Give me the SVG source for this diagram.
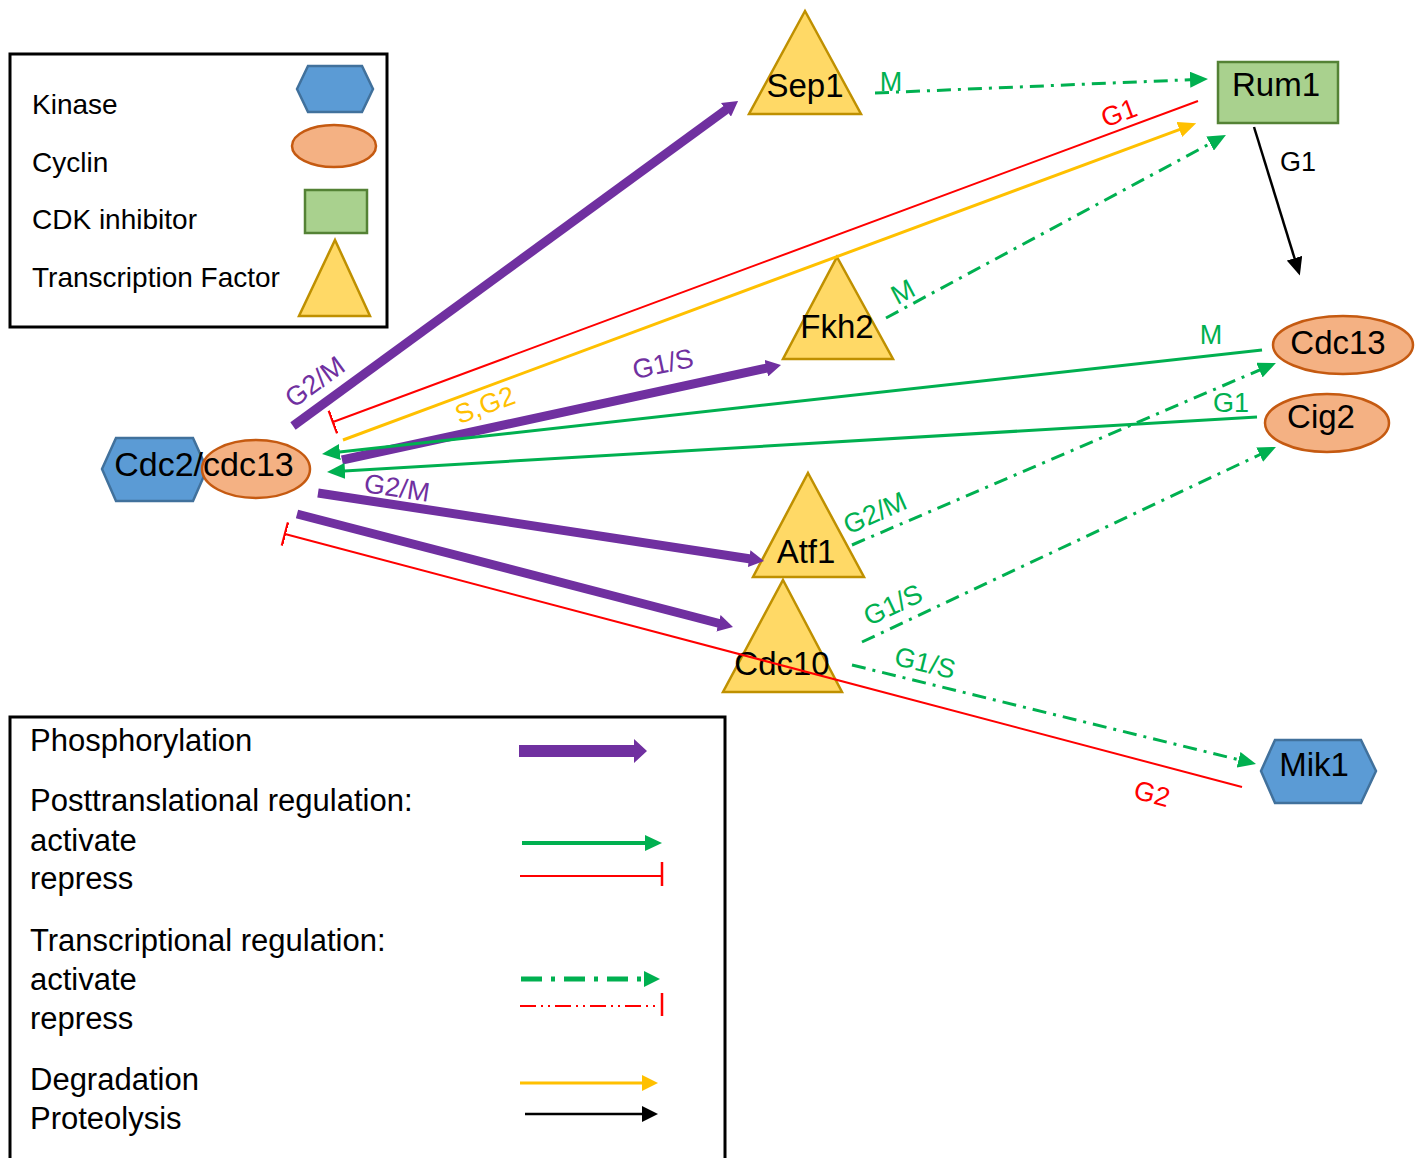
<svg xmlns="http://www.w3.org/2000/svg" width="1421" height="1158" viewBox="0 0 1421 1158">
<style>
text{font-family:"Liberation Sans",Arial,sans-serif;}
.leg{font-size:28px;fill:#000;}
.leg2{font-size:31px;fill:#000;}
.nl{font-size:33px;fill:#000;text-anchor:middle;}
.el{font-size:27px;text-anchor:middle;dominant-baseline:central;}
.hex{fill:#5B9BD5;stroke:#41719C;stroke-width:2.5;}
.cyc{fill:#F4B183;stroke:#C55A11;stroke-width:2.5;}
.cki{fill:#A9D18E;stroke:#548235;stroke-width:2.5;}
.tf{fill:#FFD966;stroke:#BF9000;stroke-width:2.5;}
.ph{stroke:#7030A0;stroke-width:9;fill:none;marker-end:url(#mP);}
.ga{stroke:#00B050;stroke-width:3;fill:none;marker-end:url(#mG);}
.gd{stroke:#00B050;stroke-width:3;fill:none;stroke-dasharray:14 7 3 7;marker-end:url(#mG);}
.rr{stroke:#FF0000;stroke-width:2;fill:none;marker-end:url(#mT);}
.dg{stroke:#FFC000;stroke-width:3;fill:none;marker-end:url(#mY);}
.pr{stroke:#000;stroke-width:2.5;fill:none;marker-end:url(#mK);}
.box{fill:none;stroke:#000;stroke-width:3;}
</style>
<defs>
<marker id="mP" markerUnits="userSpaceOnUse" markerWidth="15" markerHeight="17" viewBox="0 0 15 17" refX="5" refY="8.5" orient="auto"><path d="M0,0 L15,8.5 L0,17 z" fill="#7030A0"/></marker>
<marker id="mG" markerUnits="userSpaceOnUse" markerWidth="18" markerHeight="16" viewBox="0 0 18 16" refX="5" refY="8" orient="auto"><path d="M0,0 L18,8 L0,16 z" fill="#00B050"/></marker>
<marker id="mY" markerUnits="userSpaceOnUse" markerWidth="18" markerHeight="16" viewBox="0 0 18 16" refX="5" refY="8" orient="auto"><path d="M0,0 L18,8 L0,16 z" fill="#FFC000"/></marker>
<marker id="mK" markerUnits="userSpaceOnUse" markerWidth="18" markerHeight="16" viewBox="0 0 18 16" refX="5" refY="8" orient="auto"><path d="M0,0 L18,8 L0,16 z" fill="#000"/></marker>
<marker id="mT" markerUnits="userSpaceOnUse" markerWidth="4" markerHeight="26" viewBox="0 -13 4 26" refX="1" refY="0" orient="auto"><path d="M1,-12 L1,12" stroke="#FF0000" stroke-width="2.5"/></marker>
</defs>
<rect width="1421" height="1158" fill="#fff"/>

<g id="legend-nodes">
<rect class="box" x="10" y="54" width="377" height="273"/>
<text class="leg" x="32" y="114">Kinase</text>
<text class="leg" x="32" y="172">Cyclin</text>
<text class="leg" x="32" y="229">CDK inhibitor</text>
<text class="leg" x="32" y="287">Transcription Factor</text>
<polygon class="hex" points="297,89 308,66 362,66 373,89 362,112 308,112"/>
<ellipse class="cyc" cx="334" cy="146" rx="42" ry="21"/>
<rect class="cki" x="305" y="190" width="62" height="43"/>
<polygon class="tf" points="335,240 370,316 299,316"/>
</g>

<g id="legend-edges">
<rect class="box" x="10" y="717" width="715" height="460"/>
<text class="leg2" x="30" y="751">Phosphorylation</text>
<text class="leg2" x="30" y="811">Posttranslational regulation:</text>
<text class="leg2" x="30" y="851">activate</text>
<text class="leg2" x="30" y="889">repress</text>
<text class="leg2" x="30" y="951">Transcriptional regulation:</text>
<text class="leg2" x="30" y="990">activate</text>
<text class="leg2" x="30" y="1029">repress</text>
<text class="leg2" x="30" y="1090">Degradation</text>
<text class="leg2" x="30" y="1129">Proteolysis</text>
<path d="M519,745 L634,745 L634,739 L647,751 L634,763 L634,757 L519,757 z" fill="#7030A0"/>
<line x1="522" y1="843" x2="648" y2="843" stroke="#00B050" stroke-width="4"/>
<path d="M645,835 L662,843 L645,851 z" fill="#00B050"/>
<line x1="520" y1="876" x2="662" y2="876" stroke="#FF0000" stroke-width="2"/>
<line x1="662" y1="862" x2="662" y2="886" stroke="#FF0000" stroke-width="2.5"/>
<line x1="521" y1="979" x2="645" y2="979" stroke="#00B050" stroke-width="5" stroke-dasharray="21 9 4 9"/>
<path d="M644,971 L660,979 L644,987 z" fill="#00B050"/>
<line x1="520" y1="1006" x2="660" y2="1006" stroke="#FF0000" stroke-width="2" stroke-dasharray="16 5 2 5 2 5"/>
<line x1="662" y1="993" x2="662" y2="1016" stroke="#FF0000" stroke-width="2.5"/>
<line x1="520" y1="1083" x2="644" y2="1083" stroke="#FFC000" stroke-width="3"/>
<path d="M642,1075 L658,1083 L642,1091 z" fill="#FFC000"/>
<line x1="525" y1="1114" x2="644" y2="1114" stroke="#000" stroke-width="2.5"/>
<path d="M642,1106 L658,1114 L642,1122 z" fill="#000"/>
</g>

<g id="node-cdc2-cdc13">
<polygon class="hex" points="102,469 116,438 193,438 207,469 193,501 116,501"/>
<ellipse class="cyc" cx="256" cy="469" rx="54" ry="29"/>
<text class="nl" x="204" y="476" style="font-size:34px">Cdc2/cdc13</text>
</g>
<g id="node-sep1">
<polygon class="tf" points="805,11 861,114 749,114"/>
<text class="nl" x="805" y="97">Sep1</text>
</g>
<g id="node-rum1">
<rect class="cki" x="1218" y="62" width="120" height="61"/>
<text class="nl" x="1276" y="96">Rum1</text>
</g>
<g id="node-fkh2">
<polygon class="tf" points="837,257 893,359 783,359"/>
<text class="nl" x="837" y="338">Fkh2</text>
</g>
<g id="node-cdc13">
<ellipse class="cyc" cx="1343" cy="345" rx="70" ry="29"/>
<text class="nl" x="1338" y="354">Cdc13</text>
</g>
<g id="node-cig2">
<ellipse class="cyc" cx="1327" cy="423" rx="62" ry="29"/>
<text class="nl" x="1321" y="428">Cig2</text>
</g>
<g id="node-atf1">
<polygon class="tf" points="808,473 864,577 753,577"/>
<text class="nl" x="806" y="563">Atf1</text>
</g>
<g id="node-cdc10">
<polygon class="tf" points="783,580 842,692 723,692"/>
<text class="nl" x="782" y="675">Cdc10</text>
</g>
<g id="node-mik1">
<polygon class="hex" points="1261,771 1275,740 1361,740 1376,771 1361,803 1275,803"/>
<text class="nl" x="1314" y="776">Mik1</text>
</g>

<g id="connectors">
<line class="ph" x1="293" y1="426" x2="730" y2="106.8"/>
<line class="ph" x1="342" y1="460" x2="771.2" y2="367.1"/>
<line class="ph" x1="318" y1="493" x2="754.1" y2="559.5"/>
<line class="ph" x1="297" y1="514" x2="723.3" y2="624.5"/>
<line class="rr" x1="1198" y1="101" x2="333" y2="422"/>
<line class="rr" x1="1242" y1="787" x2="285" y2="534"/>
<line class="dg" x1="343" y1="440" x2="1184" y2="127.8"/>
<line class="ga" x1="1262" y1="350" x2="334.9" y2="452.6"/>
<line class="ga" x1="1257" y1="417" x2="340" y2="471.2"/>
<line class="pr" x1="1254" y1="127" x2="1296" y2="263"/>
<line class="gd" x1="875" y1="93" x2="1195" y2="79.5"/>
<line class="gd" x1="886" y1="318" x2="1214.5" y2="141.2"/>
<line class="gd" x1="852" y1="545" x2="1264" y2="368.1"/>
<line class="gd" x1="862" y1="642" x2="1264.2" y2="452.5"/>
<line class="gd" x1="852" y1="665" x2="1243.4" y2="760.9"/>
<text class="el" fill="#7030A0" x="315" y="382" transform="rotate(-36 315 382)">G2/M</text>
<text class="el" fill="#FF0000" x="1119" y="113" transform="rotate(-20.4 1119 113)">G1</text>
<text class="el" fill="#FFC000" x="485" y="405" transform="rotate(-20.4 485 405)">S,G2</text>
<text class="el" fill="#00B050" x="903" y="292" transform="rotate(-28 903 292)">M</text>
<text class="el" fill="#00B050" x="891" y="82">M</text>
<text class="el" fill="#000" x="1298" y="162">G1</text>
<text class="el" fill="#7030A0" x="663" y="364" transform="rotate(-12 663 364)">G1/S</text>
<text class="el" fill="#00B050" x="1211" y="335">M</text>
<text class="el" fill="#00B050" x="1231" y="403">G1</text>
<text class="el" fill="#7030A0" x="397" y="488" transform="rotate(8.6 397 488)">G2/M</text>
<text class="el" fill="#00B050" x="875" y="513" transform="rotate(-24 875 513)">G2/M</text>
<text class="el" fill="#00B050" x="893" y="605" transform="rotate(-25 893 605)">G1/S</text>
<text class="el" fill="#00B050" x="925" y="663" transform="rotate(13.8 925 663)">G1/S</text>
<text class="el" fill="#FF0000" x="1152" y="794" transform="rotate(14.8 1152 794)">G2</text>
</g>
</svg>
